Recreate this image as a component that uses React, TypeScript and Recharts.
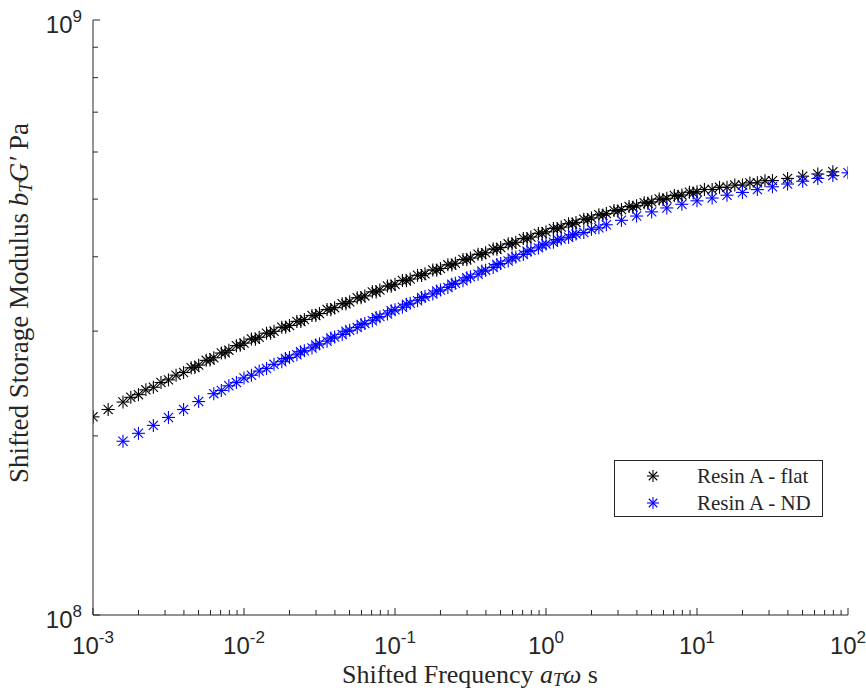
import React from 'react';
import { ScatterChart, Scatter, XAxis, YAxis } from 'recharts';

// Resin A - flat: overlapping frequency sweeps (modulus in units of 1e8 Pa)
const flatFreqA = [
  0.001, 0.00126, 0.00158, 0.002, 0.00251, 0.00316, 0.00398, 0.00501, 0.00631, 0.00794,
  0.01, 0.0126, 0.0158, 0.02, 0.0251, 0.0316, 0.0398, 0.0501, 0.0631, 0.0794,
  0.1, 0.126, 0.158, 0.2, 0.251, 0.316, 0.398, 0.501, 0.631, 0.794,
  1, 1.26, 1.58, 2, 2.51, 3.16, 3.98, 5.01, 6.31, 7.94,
  10, 12.6, 15.8, 20, 25.1, 31.6, 39.8, 50.1, 63.1, 79.4,
];
const flatModA = [
  2.153, 2.215, 2.28, 2.346, 2.414, 2.484, 2.556, 2.63, 2.706, 2.785,
  2.864, 2.93, 2.998, 3.067, 3.138, 3.211, 3.285, 3.361, 3.438, 3.518,
  3.597, 3.671, 3.746, 3.823, 3.901, 3.981, 4.063, 4.146, 4.231, 4.318,
  4.406, 4.487, 4.569, 4.649, 4.727, 4.802, 4.875, 4.947, 5.016, 5.082,
  5.146, 5.19, 5.235, 5.28, 5.325, 5.371, 5.417, 5.464, 5.511, 5.558,
];
const flatFreqB = [
  0.00178, 0.00224, 0.00282, 0.00355, 0.00447, 0.00562, 0.00708, 0.00891,
  0.0112, 0.0141, 0.0178, 0.0224, 0.0282, 0.0355, 0.0447, 0.0562, 0.0708, 0.0891,
  0.112, 0.141, 0.178, 0.224, 0.282, 0.355, 0.447, 0.562, 0.708, 0.891,
  1.12, 1.41, 1.78, 2.24, 2.82, 3.55, 4.47, 5.62, 7.08, 8.91,
  11.2, 14.1, 17.8, 22.4, 28.2,
];
const flatModB = [
  2.322, 2.39, 2.459, 2.53, 2.603, 2.679, 2.756, 2.836,
  2.909, 2.976, 3.045, 3.115, 3.187, 3.261, 3.336, 3.413, 3.492, 3.572,
  3.649, 3.723, 3.8, 3.877, 3.957, 4.038, 4.121, 4.205, 4.292, 4.379,
  4.464, 4.546, 4.627, 4.707, 4.784, 4.858, 4.931, 5.001, 5.069, 5.134,
  5.189, 5.233, 5.279, 5.324, 5.369,
];
const flatFreqC = [
  0.00473, 0.00596, 0.0075, 0.00944, 0.0119, 0.015, 0.0189, 0.0238, 0.0299, 0.0376,
  0.0473, 0.0596, 0.075, 0.0944, 0.119, 0.15, 0.189, 0.238, 0.299, 0.376,
  0.473, 0.596, 0.75, 0.944, 1.19, 1.5, 1.89, 2.38, 2.99, 3.76,
  4.73, 5.96, 7.5, 9.44,
];
const flatModC = [
  2.606, 2.682, 2.759, 2.839, 2.908, 2.975, 3.044, 3.114, 3.186, 3.26,
  3.335, 3.412, 3.491, 3.57, 3.645, 3.72, 3.796, 3.873, 3.953, 4.034,
  4.117, 4.201, 4.288, 4.375, 4.458, 4.539, 4.619, 4.698, 4.774, 4.847,
  4.919, 4.988, 5.055, 5.119,
];

// Resin A - ND
const ndFreqA = [
  0.00158, 0.002, 0.00251, 0.00316, 0.00398, 0.00501, 0.00631, 0.00794,
  0.01, 0.0126, 0.0158, 0.02, 0.0251, 0.0316, 0.0398, 0.0501, 0.0631, 0.0794,
  0.1, 0.126, 0.158, 0.2, 0.251, 0.316, 0.398, 0.501, 0.631, 0.794,
  1, 1.26, 1.58, 2, 2.51, 3.16, 3.98, 5.01, 6.31, 7.94,
  10, 12.6, 15.8, 20, 25.1, 31.6, 39.8, 50.1, 63.1, 79.4, 100,
];
const ndModA = [
  1.959, 2.02, 2.083, 2.148, 2.215, 2.284, 2.355, 2.428,
  2.503, 2.57, 2.638, 2.709, 2.781, 2.856, 2.932, 3.01, 3.091, 3.173,
  3.258, 3.342, 3.429, 3.518, 3.609, 3.702, 3.798, 3.897, 3.998, 4.101,
  4.203, 4.285, 4.367, 4.448, 4.528, 4.606, 4.683, 4.759, 4.832, 4.901,
  4.967, 5.021, 5.076, 5.131, 5.187, 5.244, 5.301, 5.359, 5.417, 5.476, 5.536,
];
const ndFreqB = [
  0.00708, 0.00891, 0.0112, 0.0141, 0.0178, 0.0224, 0.0282, 0.0355, 0.0447, 0.0562,
  0.0708, 0.0891, 0.112, 0.141, 0.178, 0.224, 0.282, 0.355, 0.447, 0.562,
  0.708, 0.891, 1.12, 1.41, 1.78, 2.24,
];
const ndModB = [
  2.384, 2.458, 2.529, 2.596, 2.665, 2.737, 2.81, 2.885, 2.962, 3.041,
  3.123, 3.206, 3.29, 3.375, 3.463, 3.553, 3.645, 3.739, 3.836, 3.936,
  4.037, 4.14, 4.231, 4.313, 4.394, 4.475,
];
const ndFreqC = [
  0.0188, 0.0237, 0.0299, 0.0376, 0.0473, 0.0596, 0.075, 0.0944, 0.119, 0.15,
  0.189, 0.238, 0.299, 0.376, 0.473, 0.596, 0.75, 0.944, 1.19, 1.5,
];
const ndModC = [
  2.698, 2.77, 2.844, 2.92, 2.998, 3.078, 3.161, 3.245, 3.329, 3.416,
  3.504, 3.595, 3.688, 3.784, 3.882, 3.983, 4.085, 4.188, 4.275, 4.357,
];

const xMajor = [1e-3, 1e-2, 1e-1, 1, 10, 100];
const yMajor = [1e8, 1e9];

const toPoints = (freq: number[], mod: number[]) =>
  freq.map((f, i) => ({ x: f, y: mod[i] * 1e8 }));

const flatData = [
  ...toPoints(flatFreqA, flatModA),
  ...toPoints(flatFreqB, flatModB),
  ...toPoints(flatFreqC, flatModC),
];
const ndData = [
  ...toPoints(ndFreqA, ndModA),
  ...toPoints(ndFreqB, ndModB),
  ...toPoints(ndFreqC, ndModC),
];

// major + minor log ticks
const withMinor = (majors: number[]) => {
  const out: number[] = [];
  majors.forEach((m, i) => {
    out.push(m);
    if (i < majors.length - 1) for (let k = 2; k <= 9; k++) out.push(m * k);
  });
  return out;
};
const xTicks = withMinor(xMajor);
const yTicks = withMinor(yMajor);

const AXIS = '#262626';
const isMajor = (v: number) => Math.abs(Math.log10(v) - Math.round(Math.log10(v))) < 1e-6;

const Star = ({ cx, cy, color, r = 6.5 }: any) => {
  const d = r * 0.707;
  return (
    <g stroke={color} strokeWidth={1.1}>
      <line x1={cx - r} y1={cy} x2={cx + r} y2={cy} />
      <line x1={cx} y1={cy - r} x2={cx} y2={cy + r} />
      <line x1={cx - d} y1={cy - d} x2={cx + d} y2={cy + d} />
      <line x1={cx - d} y1={cy + d} x2={cx + d} y2={cy - d} />
    </g>
  );
};

const XTick = ({ x, y, payload }: any) => {
  const v = payload.value;
  const major = isMajor(v);
  return (
    <g>
      <line x1={x} y1={y} x2={x} y2={y - (major ? 7 : 5)} stroke={AXIS} />
      {major && (
        <text x={x} y={y + 39} textAnchor="middle" fill={AXIS} fontFamily="Liberation Sans, Arial" fontSize={24}>
          10<tspan fontSize={17} dy={-11}>{Math.round(Math.log10(v))}</tspan>
        </text>
      )}
    </g>
  );
};

const YTick = ({ x, y, payload }: any) => {
  const v = payload.value;
  const major = isMajor(v);
  return (
    <g>
      <line x1={x} y1={y} x2={x + (major ? 7 : 5)} y2={y} stroke={AXIS} />
      {major && (
        <text x={x - 11} y={y + 13} textAnchor="end" fill={AXIS} fontFamily="Liberation Sans, Arial" fontSize={24}>
          10<tspan fontSize={17} dy={-11}>{Math.round(Math.log10(v))}</tspan>
        </text>
      )}
    </g>
  );
};

const XTitle = () => (
  <text x={470} y={683} textAnchor="middle" fill={AXIS} fontFamily="Liberation Serif" fontSize={26}>
    Shifted Frequency <tspan fontStyle="italic">a</tspan>
    <tspan fontStyle="italic" fontSize={18} dy={3}>T</tspan>
    <tspan fontStyle="italic" dy={-3}>ω</tspan> s
  </text>
);

const YTitle = () => (
  <text
    x={0}
    y={0}
    transform="translate(28,303) rotate(-90)"
    textAnchor="middle"
    fill={AXIS}
    fontFamily="Liberation Serif"
    fontSize={27}
  >
    Shifted Storage Modulus <tspan fontStyle="italic">b</tspan>
    <tspan fontStyle="italic" fontSize={19} dy={4}>T</tspan>
    <tspan fontStyle="italic" dy={-4}>G′</tspan> Pa
  </text>
);

const series = [
  { name: 'Resin A - flat', color: '#000000' },
  { name: 'Resin A - ND', color: '#0000ff' },
];

const LegendBox = () => (
  <div
    style={{
      position: 'absolute',
      left: 614,
      top: 460,
      width: 209,
      height: 57,
      boxSizing: 'border-box',
      border: `1px solid ${AXIS}`,
      background: '#fff',
      fontFamily: 'Liberation Serif',
      fontSize: 21,
      color: AXIS,
    }}
  >
    {series.map((s, i) => (
      <div key={s.name} style={{ position: 'absolute', left: 0, top: 3 + i * 27, height: 24, width: '100%' }}>
        <svg width={16} height={16} style={{ position: 'absolute', left: 30, top: 4 }}>
          <Star cx={8} cy={8} color={s.color} r={6} />
        </svg>
        <span style={{ position: 'absolute', left: 82, top: 0, whiteSpace: 'nowrap', lineHeight: '24px' }}>{s.name}</span>
      </div>
    ))}
  </div>
);

export default function App() {
  return (
    <div style={{ position: 'absolute', left: 0, top: 0, width: 866, height: 691, background: '#fff' }}>
      <ScatterChart width={866} height={691} margin={{ top: 20, right: 18, bottom: 0, left: 0 }}>
        <XAxis
          type="number"
          dataKey="x"
          scale="log"
          domain={[1e-3, 1e2]}
          ticks={xTicks}
          interval={0}
          allowDataOverflow
          height={76}
          tickSize={0}
          tickMargin={0}
          tickLine={false}
          tick={<XTick />}
          axisLine={{ stroke: AXIS }}
          label={<XTitle />}
        />
        <YAxis
          type="number"
          dataKey="y"
          scale="log"
          domain={[1e8, 1e9]}
          ticks={yTicks}
          interval={0}
          allowDataOverflow
          width={93}
          tickSize={0}
          tickMargin={0}
          tickLine={false}
          tick={<YTick />}
          axisLine={{ stroke: AXIS }}
          label={<YTitle />}
        />
        <Scatter
          name={series[0].name}
          data={flatData}
          isAnimationActive={false}
          shape={(p: any) => <Star cx={p.cx} cy={p.cy} color={series[0].color} />}
        />
        <Scatter
          name={series[1].name}
          data={ndData}
          isAnimationActive={false}
          shape={(p: any) => <Star cx={p.cx} cy={p.cy} color={series[1].color} />}
        />
      </ScatterChart>
      <LegendBox />
    </div>
  );
}
